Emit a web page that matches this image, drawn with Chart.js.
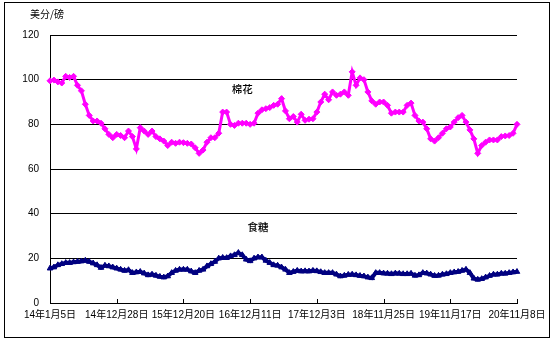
<!DOCTYPE html>
<html><head><meta charset="utf-8">
<script src="https://cdn.jsdelivr.net/npm/chart.js@4/dist/chart.umd.min.js"></script>
<style>html,body{margin:0;padding:0;background:#fff;}#wrap{width:554px;height:342px;}</style>
</head><body><div id="wrap"><canvas id="c" width="554" height="342"></canvas></div>
<script>
// Tick labels (every 51 weeks)
const tickLabels = ['14年1月5日','14年12月28日','15年12月20日','16年12月11日','17年12月3日','18年11月25日','19年11月17日','20年11月8日'];
const tickEvery = 17; // categories are sampled every 3 weeks -> 51 weeks = 17 categories
// Cotton (美分/磅), sampled every 3 weeks from 2014-01-05
const cotton = [
 99.5, 99.8, 99, 98.5, 101.5, 101, 101.5, 97.5, 95, 89,
 84, 81.5, 81.5, 80.5, 78, 75.5, 74, 75.5, 75, 74,
 77, 74.5, 69, 78.5, 77, 75.5, 77, 74.5, 73.5, 72.5,
 70.5, 72, 71.5, 72, 71.8, 71.5, 71.2, 69.5, 67, 68.5,
 72, 74, 74, 76, 85.5, 85.5, 80, 79.5, 80.5, 80.5,
 80.5, 80, 80.5, 85, 86.5, 87, 87.5, 88.5, 89, 91.5,
 86, 82.5, 83.5, 81, 84.5, 81.8, 82.3, 82.5, 85.5, 90,
 93.5, 91, 94.5, 93, 93.5, 94.5, 93, 103.5, 97.5, 100.8,
 100, 94.5, 90.5, 89, 90, 90, 88.5, 85, 85.5, 85.5,
 85.5, 88.5, 89.5, 84, 81.5, 81, 78, 73.5, 72.5, 74,
 76, 78, 78.8, 81, 83, 84, 81, 77.5, 73.5, 67,
 70.5, 72, 73, 73, 73, 74.5, 74.8, 75, 76, 80
];
// Sugar (美分/磅)
const sugar = [
 15.5, 16, 17, 17.5, 18, 18, 18.3, 18.5, 18.7, 19,
 18.5, 17.8, 17, 15.8, 16.8, 16.5, 16, 15.5, 15, 14.5,
 14.8, 13.5, 13.8, 14, 13.3, 12.5, 12.8, 12.3, 11.8, 11.5,
 12, 13.5, 14.5, 15, 15, 15, 14.2, 13.5, 14.5, 15,
 16.5, 17.5, 18.5, 20, 20.3, 20.2, 21, 21.5, 22.5, 21.5,
 19.5, 18.8, 20, 20.5, 20.5, 19, 18, 17, 16.8, 16,
 15, 13.5, 14, 14.5, 14.2, 14.3, 14.2, 14.5, 14.3, 13.9,
 13.5, 13.5, 13.5, 12.8, 12, 12.3, 12.7, 12.8, 12.5, 12.2,
 12, 11.5, 11.2, 13.5, 13.5, 13.3, 13.2, 13, 13.3, 13.2,
 13, 13, 13.2, 12.3, 12.5, 13.5, 13.3, 12.8, 12.2, 12.3,
 12.8, 13, 13.5, 13.8, 14, 14.5, 15, 13.5, 11, 10.5,
 10.8, 11.5, 12.2, 12.8, 12.8, 13.2, 13.2, 13.5, 13.8, 14
];
const seriesNames = ['棉花','食糖'];
const unitLabel = '美分/磅';

// category dates (every 3 weeks)
const categories = [];
{
  const start = Date.UTC(2014,0,5);
  for (let i = 0; i < cotton.length; i++) {
    const d = new Date(start + i*21*86400000);
    categories.push(String(d.getUTCFullYear()).slice(2)+'年'+(d.getUTCMonth()+1)+'月'+d.getUTCDate()+'日');
  }
}

const FONT = "'Liberation Sans', Arial, 'Noto Sans CJK SC', sans-serif";

const decor = {
  id: 'decor',
  beforeDraw(chart) {
    const ctx = chart.ctx;
    ctx.save();
    ctx.fillStyle = '#fff';
    ctx.fillRect(0,0,chart.width,chart.height);
    ctx.restore();
  },
  afterDraw(chart) {
    const ctx = chart.ctx, a = chart.chartArea, xs = chart.scales.x, ys = chart.scales.y;
    ctx.save();
    // outer border
    ctx.strokeStyle = '#000'; ctx.lineWidth = 1;
    ctx.strokeRect(4.5, 2.5, 545, 335);
    // inner tick marks on x axis
    ctx.beginPath();
    for (let i = 0; i < categories.length; i += tickEvery) {
      const x = Math.round(xs.getPixelForValue(i)) + 0.5;
      ctx.moveTo(x, a.bottom); ctx.lineTo(x, a.bottom - 4);
    }
    ctx.stroke();
    // unit
    ctx.fillStyle = '#000';
    ctx.font = "10px 'Noto Sans CJK SC', sans-serif";
    ctx.textAlign = 'left'; ctx.textBaseline = 'middle';
    ctx.fillText(unitLabel, 30, 14);
    // series labels
    ctx.font = "500 10.5px 'Noto Sans CJK SC', sans-serif";
    ctx.textAlign = 'center';
    ctx.fillText(seriesNames[0], xs.getPixelForValue(49), ys.getPixelForValue(96));
    ctx.fillText(seriesNames[1], xs.getPixelForValue(53), ys.getPixelForValue(34));
    ctx.restore();
  }
};

new Chart(document.getElementById('c'), {
  type: 'line',
  data: {
    labels: categories,
    datasets: [
      { label: seriesNames[0], data: cotton, borderColor: '#FF00FF', backgroundColor: '#FF00FF',
        borderWidth: 3, pointStyle: 'rectRot', pointRadius: 3, pointBorderWidth: 1, tension: 0 },
      { label: seriesNames[1], data: sugar, borderColor: '#000080', backgroundColor: '#000080',
        borderWidth: 4, pointStyle: 'triangle', pointRadius: 3.2, pointBorderWidth: 1, tension: 0 }
    ]
  },
  options: {
    responsive: false,
    animation: false,
    layout: { padding: { left: 0, top: 35, right: 37, bottom: 0 } },
    plugins: { legend: { display: false }, tooltip: { enabled: false } },
    scales: {
      x: {
        type: 'category',
        offset: false,
        grid: { display: false, drawTicks: false },
        border: { display: true, color: '#000', width: 1 },
        ticks: {
          autoSkip: false, maxRotation: 0, minRotation: 0, padding: 6,
          color: '#000', font: { family: FONT, size: 10 },
          callback: (v, i) => (i % tickEvery === 0 ? tickLabels[i / tickEvery] : null)
        },
        afterFit: s => { s.height = 39; }
      },
      y: {
        min: 0, max: 120,
        grid: { color: '#000', lineWidth: 1, drawTicks: false },
        border: { display: true, color: '#000', width: 1 },
        ticks: { stepSize: 20, padding: 11, color: '#000', font: { family: FONT, size: 10 } },
        afterFit: s => { s.width = 50; }
      }
    }
  },
  plugins: [decor]
});
</script>
</body></html>
